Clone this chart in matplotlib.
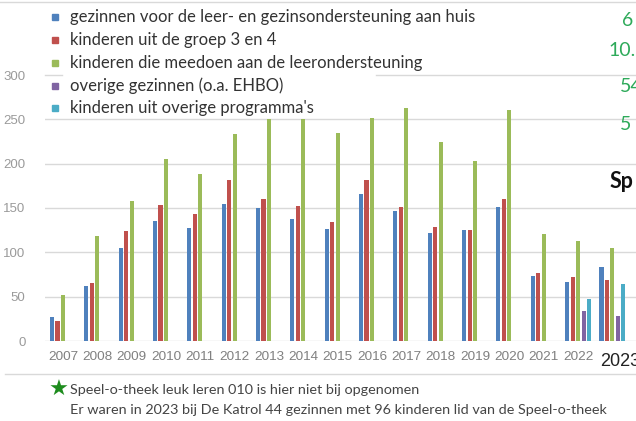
import numpy as np
import matplotlib.pyplot as plt
from matplotlib.lines import Line2D
from matplotlib.patches import Rectangle

# data
jaren = ['2007', '2008', '2009', '2010', '2011', '2012', '2013', '2014', '2015',
         '2016', '2017', '2018', '2019', '2020', '2021', '2022', '2023']
gezinnen_huis = [27, 62, 105, 135, 128, 155, 150, 138, 126, 166, 147, 122, 125, 151, 73, 67, 83]
kinderen_groep34 = [22, 65, 124, 153, 143, 182, 160, 152, 134, 182, 151, 129, 125, 160, 77, 72, 69]
kinderen_leer = [52, 118, 158, 205, 188, 234, 250, 250, 235, 251, 263, 224, 203, 260, 121, 113, 105]
overige_gezinnen = [np.nan] * 15 + [34, 28]
overige_kinderen = [np.nan] * 15 + [47, 64]

reeksen = [
    ("gezinnen voor de leer- en gezinsondersteuning aan huis", gezinnen_huis, '#4f81bd'),
    ("kinderen uit de groep 3 en 4", kinderen_groep34, '#c0504d'),
    ("kinderen die meedoen aan de leerondersteuning", kinderen_leer, '#9bbb59'),
    ("overige gezinnen (o.a. EHBO)", overige_gezinnen, '#8064a2'),
    ("kinderen uit overige programma's", overige_kinderen, '#4bacc6'),
]

W, H = 636, 421
fig = plt.figure(figsize=(W / 100, H / 100), dpi=100)
fig.patch.set_facecolor('white')

# axes runs off the right edge, like the cropped screenshot
ax = fig.add_axes([45 / W, 1 - 341 / H, (700 - 45) / W, 266 / H])
x = np.arange(len(jaren))
stap = 0.16
breedte = 0.12
for i, (naam, waarden, kleur) in enumerate(reeksen):
    ax.bar(x + (i - 2) * stap, waarden, width=breedte, color=kleur, zorder=3)

ax.set_xlim(-0.524, 18.55)
ax.set_ylim(0, 300)
for v in [0, 50, 100, 150, 200, 250]:
    ax.axhline(v, color='#d9d9d9', lw=1, zorder=1)
# 300 line is hidden behind the legend for part of its length
ax.axhline(300, xmax=0.026, color='#d9d9d9', lw=1, zorder=1, clip_on=False)
ax.axhline(300, xmin=0.505, color='#d9d9d9', lw=1, zorder=1, clip_on=False)

for s in ax.spines.values():
    s.set_visible(False)
ax.set_yticks([0, 50, 100, 150, 200, 250, 300])
ax.tick_params(axis='y', length=0, pad=14, labelcolor='#9a9a9a', labelsize=9.5)
ax.set_xticks(x)
ax.set_xticklabels(jaren[:-1] + [''], family='Liberation Sans')
ax.tick_params(axis='x', length=0, pad=7, labelcolor='#808080', labelsize=9.7)
for lab in ax.get_yticklabels():
    lab.set_family('Liberation Sans')
fig.text(600 / W, 1 - 361 / H, jaren[-1], fontsize=13, color='#222222',
         family='Liberation Sans', va='center', ha='left')

# legend drawn by hand (square + text per row)
rij_y = [17, 40, 63, 86, 108]
for (naam, waarden, kleur), ry in zip(reeksen, rij_y):
    fig.add_artist(Rectangle((52 / W, 1 - (ry + 3) / H), 6 / W, 6 / H,
                             transform=fig.transFigure, color=kleur))
    fig.text(70 / W, 1 - ry / H, naam, fontsize=12, color='#333333',
             family='Lato', va='center', ha='left')

# cropped text from the slide on the right
groen = '#2eaa5a'
for tekst, tx, ty in [('6', 622, 20), ('10.', 608, 50), ('54', 620, 87), ('5', 620, 125)]:
    fig.text(tx / W, 1 - ty / H, tekst, fontsize=14, color=groen, family='Lato',
             va='center', ha='left')
fig.text(610 / W, 1 - 181 / H, 'Sp', fontsize=15.5, color='#111111', family='Lato',
         weight='bold', va='center', ha='left')

# lines of the slide
fig.add_artist(Line2D([0, 1], [1 - 2 / H] * 2, color='#d9d9d9', lw=1))
fig.add_artist(Line2D([5 / W, 1], [1 - 374 / H] * 2, color='#d9d9d9', lw=1))

# footer
fig.text(58.5 / W, 1 - 390 / H, '★', fontsize=16, color='#1e8c1e', va='center', ha='center')
fig.text(70 / W, 1 - 390 / H, 'Speel-o-theek leuk leren 010 is hier niet bij opgenomen',
         fontsize=10.4, color='#444444', family='Lato', va='center', ha='left')
fig.text(70 / W, 1 - 410 / H,
         'Er waren in 2023 bij De Katrol 44 gezinnen met 96 kinderen lid van de Speel-o-theek',
         fontsize=10.4, color='#444444', family='Lato', va='center', ha='left')

fig.savefig('out.png', dpi=100)
